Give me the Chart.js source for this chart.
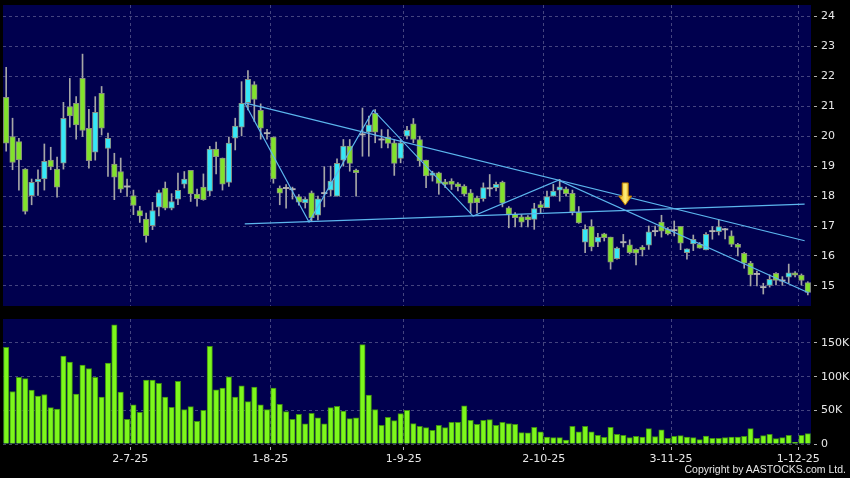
<!DOCTYPE html>
<html>
<head>
<meta charset="utf-8">
<script src="https://cdn.jsdelivr.net/npm/chart.js@4.4.1/dist/chart.umd.min.js"></script>
<style>
html, body { margin: 0; padding: 0; background: #000; }
#wrap { position: relative; width: 850px; height: 478px; background: #000; overflow: hidden; }
#priceChart { position: absolute; left: 0; top: 0; }
#volChart { position: absolute; left: 0; top: 312px; }
#copy { position: absolute; right: 4px; top: 463px; font: 10.5px "Liberation Sans", Arial, sans-serif; line-height: 12px; color: #e6e6e6; }
</style>
</head>
<body>
<div id="wrap">
  <canvas id="priceChart" width="850" height="312"></canvas>
  <canvas id="volChart" width="850" height="166"></canvas>
  <div id="copy">Copyright by AASTOCKS.com Ltd.</div>
</div>
<script>
// daily OHLC, one entry per trading day
const opens = [21.30,19.99,19.82,18.90,18.01,18.47,18.57,19.20,18.90,19.10,20.99,21.10,21.93,20.26,19.47,21.43,19.59,19.07,18.82,18.32,
  18.02,17.52,17.23,17.01,17.63,18.27,17.60,17.90,18.40,18.86,18.07,18.30,18.16,19.57,19.27,18.46,19.93,20.30,21.12,21.72,
  20.86,20.10,19.97,18.27,18.27,18.23,17.98,17.77,18.11,17.36,18.10,18.20,18.00,19.20,19.67,18.87,20.06,20.13,20.76,19.89,
  19.97,19.78,19.26,20.00,20.41,19.89,19.20,18.69,18.78,18.48,18.50,18.41,18.33,18.11,17.94,17.91,18.26,18.28,18.47,17.61,
  17.39,17.31,17.31,17.22,17.72,17.61,18.00,18.20,18.24,18.09,17.46,16.46,16.99,16.46,16.74,16.63,15.91,16.46,16.37,16.22,
  16.30,16.36,16.83,17.13,16.89,16.86,16.99,16.11,16.40,16.39,16.20,16.83,16.81,16.89,16.67,16.39,16.09,15.76,15.40,14.96,
  15.02,15.42,15.18,15.29,15.44,15.36,15.11];
const highs = [22.30,20.60,19.93,18.92,18.57,18.88,19.74,19.63,19.30,21.13,21.93,21.32,22.74,20.90,21.32,21.66,20.10,19.43,19.27,18.57,
  18.20,17.66,17.43,17.79,18.20,18.47,18.08,18.77,18.82,18.86,18.23,18.74,19.66,19.80,19.27,19.97,20.60,21.82,22.19,21.82,
  21.08,20.23,19.97,18.34,18.38,18.30,18.05,17.95,18.17,18.00,18.98,19.00,19.24,19.89,19.89,18.90,20.94,20.67,20.89,20.22,
  20.22,19.89,19.89,20.33,20.59,20.00,19.20,18.83,18.80,18.56,18.58,18.45,18.38,18.22,18.00,18.44,18.72,18.47,18.50,17.65,
  17.45,17.38,17.35,17.76,17.83,18.17,18.39,18.56,18.30,18.20,17.65,17.04,17.21,16.76,16.76,16.63,16.30,16.72,16.54,16.24,
  16.35,17.00,17.00,17.36,16.95,17.17,16.99,16.24,16.70,16.45,16.78,16.98,17.20,16.92,16.84,16.42,16.12,15.82,15.50,15.09,
  15.37,15.45,15.31,15.73,15.48,15.40,15.14];
const lows = [19.50,18.88,18.20,17.40,17.71,18.02,18.20,18.88,17.96,18.90,20.30,19.90,19.99,18.93,19.20,20.04,18.66,17.88,18.12,17.99,
  17.38,17.12,16.46,16.88,17.34,17.54,17.54,17.71,18.27,17.82,17.66,17.86,18.01,18.74,18.20,18.32,19.54,20.01,20.88,20.49,
  19.90,19.90,18.43,17.71,17.60,17.90,17.70,17.60,17.17,17.20,17.64,18.00,18.00,19.00,18.83,18.00,19.33,19.33,19.78,19.61,
  19.61,18.69,19.11,19.91,19.78,19.00,18.28,18.50,18.06,18.28,18.22,18.17,18.00,17.44,17.44,17.83,18.00,18.17,17.64,16.94,
  16.97,16.97,16.97,16.89,17.44,17.61,18.00,17.83,18.00,17.37,17.09,16.11,16.17,16.31,16.50,15.56,15.89,16.30,16.07,15.70,
  16.00,16.22,16.67,16.63,16.70,16.67,16.21,15.89,16.18,16.26,16.20,16.56,16.70,16.57,16.31,16.00,15.59,15.00,15.00,14.73,
  14.96,15.03,15.02,15.09,15.30,15.03,14.70];
const closes = [19.77,19.12,19.21,17.49,18.46,18.57,19.16,18.97,18.30,20.60,20.68,20.38,20.19,19.18,20.80,20.27,19.93,18.63,18.23,18.32,
  17.69,17.34,16.68,17.52,18.12,17.60,17.82,18.19,18.57,18.07,17.91,17.88,19.57,19.32,18.40,19.77,20.34,21.10,21.90,21.23,
  20.27,20.10,18.57,18.10,18.27,18.23,17.80,17.90,17.28,17.91,18.10,18.50,19.09,19.67,19.09,18.78,20.06,20.38,20.13,19.89,
  19.76,19.09,19.78,20.20,19.89,19.17,18.67,18.78,18.42,18.39,18.39,18.31,18.06,17.76,17.78,18.28,18.26,18.39,17.76,17.39,
  17.28,17.13,17.20,17.58,17.61,17.98,18.17,18.31,18.08,17.48,17.10,16.90,16.30,16.63,16.61,15.79,16.26,16.46,16.11,16.09,
  16.20,16.81,16.83,16.83,16.74,16.86,16.43,16.24,16.56,16.26,16.72,16.83,16.98,16.89,16.39,16.29,15.76,15.37,15.40,14.96,
  15.22,15.18,15.18,15.44,15.36,15.18,14.78];
// volume in thousands of shares
const volumes = [143.5,78,99,97,80,71,73.5,54,52,130.6,121.7,74,117,112,99,69.5,120,177,77,36.8,
  58,47,95,95,90,69.5,54.6,93,51,55.6,33.8,50,145,80.5,83,99.8,69.5,86.4,63,84.4,
  58,51,83,59,48,36.8,44,29.8,45.7,38.7,29.8,54,56,49,37.7,39,147.5,72.5,51,27.8,
  39.7,34.8,45,50,30.3,26.3,24.3,20.4,27.8,24.3,32.3,32.3,56.6,35.3,29.3,35.3,36.3,27.8,32.3,30.3,
  29.3,16.9,16.4,24.8,17.9,10.4,9.4,9.4,6,26.3,17.9,26.3,17.9,12.9,9.9,24.8,14.4,12.9,9.4,11.4,
  10.4,22.8,10.9,20.9,8.4,11.4,12.4,10.4,9.4,6.5,11.9,8.4,8.4,9.4,10.4,10.4,11.4,22.8,8.4,12.4,
  14.4,7.9,9.4,12.9,2.5,12.9,15.4];

// month gridlines sit on the boundary before the labelled day
const gridIdx = [19.5, 41.5, 62.5, 84.5, 104.5, 124.5];
const dateLabels = ['2-7-25', '1-8-25', '1-9-25', '2-10-25', '3-11-25', '1-12-25'];
const priceTicks = [15, 16, 17, 18, 19, 20, 21, 22, 23, 24];
const volTicks = [0, 50, 100, 150];

// drawn trend lines, [day index, price]
const baseLine = [[37.5, 17.07], [125.5, 17.73]];
const upperLine = [[37.5, 21.11], [125.5, 16.51]];
const zigzag = [[37.5, 21.11], [47.6, 17.13], [57.7, 20.87], [73.4, 17.33], [86.8, 18.53], [126.1, 14.77]];
const arrowAt = [97.3, 17.7, 18.44]; // day index, tip price, tail price

const UP = '#36e8f8', DOWN = '#82e22c', FLAT = '#b4b4b4';
const GRID = 'rgba(135,135,175,0.5)';
const LABEL = '#e8e8e8';

Chart.defaults.font.family = '"DejaVu Sans", sans-serif';
Chart.defaults.font.size = 11;

const days = closes.map((_, i) => i);
const isFlat = i => Math.abs(opens[i] - closes[i]) < 0.005;

const bgPlugin = {
  id: 'bg',
  beforeDraw(chart) {
    const { ctx, chartArea: a } = chart;
    ctx.save();
    ctx.fillStyle = '#000';
    ctx.fillRect(0, 0, chart.width, chart.height);
    ctx.fillStyle = '#00004e';
    ctx.fillRect(a.left, a.top, a.right - a.left, a.bottom - a.top);
    ctx.restore();
  }
};

const arrowPlugin = {
  id: 'arrow',
  afterDatasetsDraw(chart) {
    const { ctx, scales: { x, y } } = chart;
    const px = x.getPixelForValue(arrowAt[0]);
    const tip = y.getPixelForValue(arrowAt[1]);
    const tail = y.getPixelForValue(arrowAt[2]);
    const hw = 6.5, sw = 3, head = 9;
    ctx.save();
    const g = ctx.createLinearGradient(px - hw, 0, px + hw, 0);
    g.addColorStop(0, '#e09a00');
    g.addColorStop(0.5, '#fff07a');
    g.addColorStop(1, '#e09a00');
    ctx.fillStyle = g;
    ctx.beginPath();
    ctx.moveTo(px - sw, tail);
    ctx.lineTo(px + sw, tail);
    ctx.lineTo(px + sw, tip - head);
    ctx.lineTo(px + hw, tip - head);
    ctx.lineTo(px, tip);
    ctx.lineTo(px - hw, tip - head);
    ctx.lineTo(px - sw, tip - head);
    ctx.closePath();
    ctx.fill();
    ctx.strokeStyle = '#b87800';
    ctx.lineWidth = 1;
    ctx.stroke();
    ctx.restore();
  }
};

function dayAxis(showLabels) {
  return {
    type: 'linear',
    min: -0.5,
    max: 126.5,
    offset: false,
    bounds: 'data',
    afterBuildTicks: s => { s.ticks = gridIdx.map(v => ({ value: v })); },
    afterFit: s => {
      s.height = showLabels ? 34 : 0;
      s.paddingLeft = 0; s.paddingRight = 0;
    },
    ticks: {
      display: showLabels,
      autoSkip: false,
      maxRotation: 0,
      padding: 3,
      color: LABEL,
      callback: v => dateLabels[gridIdx.indexOf(v)]
    },
    grid: {
      offset: false,
      color: GRID,
      drawTicks: showLabels,
      tickLength: 6,
      tickColor: '#b0b0b0',
      tickBorderDash: [0, 3, 3]
    },
    border: { display: false, dash: [3, 3] }
  };
}

function valueAxis(min, max, ticks, fmt) {
  return {
    position: 'right',
    min: min,
    max: max,
    bounds: 'data',
    afterBuildTicks: s => { s.ticks = ticks.map(v => ({ value: v })); },
    afterFit: s => { s.width = 39; s.paddingTop = 0; s.paddingBottom = 0; },
    ticks: { color: LABEL, padding: 4, callback: fmt },
    grid: {
      color: GRID,
      drawTicks: true,
      tickLength: 6,
      tickColor: '#b0b0b0',
      tickBorderDash: [0, 3, 3]
    },
    border: { display: false, dash: [3, 3] }
  };
}

function line(points) {
  return {
    type: 'line',
    data: points.map(p => ({ x: p[0], y: p[1] })),
    borderColor: '#5cb6ee',
    borderWidth: 1.2,
    pointRadius: 0,
    tension: 0,
    fill: false,
    order: 1
  };
}

new Chart(document.getElementById('priceChart'), {
  type: 'bar',
  data: {
    datasets: [
      {
        data: days.map(i => ({ x: i, y: [lows[i], highs[i]] })),
        backgroundColor: '#a6a6a6',
        barThickness: 1,
        grouped: false,
        order: 3
      },
      {
        data: days.map(i => ({ x: i, y: isFlat(i) ? [opens[i] - 0.02, opens[i] + 0.02] : [opens[i], closes[i]] })),
        backgroundColor: days.map(i => isFlat(i) ? FLAT : (closes[i] > opens[i] ? UP : DOWN)),
        borderColor: days.map(i => isFlat(i) ? FLAT : '#8a9082'),
        borderWidth: days.map(i => isFlat(i) ? 0 : 1),
        borderSkipped: false,
        barThickness: 5.6,
        grouped: false,
        order: 2
      },
      line(baseLine),
      line(upperLine),
      line(zigzag)
    ]
  },
  options: {
    responsive: false,
    animation: false,
    layout: { padding: { left: 3, top: 5, bottom: 6, right: 0 } },
    plugins: { legend: { display: false }, tooltip: { enabled: false } },
    scales: {
      x: dayAxis(false),
      y: valueAxis(14.33, 24.38, priceTicks, v => String(v))
    }
  },
  plugins: [bgPlugin, arrowPlugin]
});

new Chart(document.getElementById('volChart'), {
  type: 'bar',
  data: {
    datasets: [{
      data: days.map(i => ({ x: i, y: volumes[i] })),
      backgroundColor: '#7df71c',
      borderColor: '#3f8f12',
      borderWidth: 1,
      barThickness: 5.4
    }]
  },
  options: {
    responsive: false,
    animation: false,
    layout: { padding: { left: 3, top: 7, bottom: 0, right: 0 } },
    plugins: { legend: { display: false }, tooltip: { enabled: false } },
    scales: {
      x: dayAxis(true),
      y: valueAxis(0, 185.6, volTicks, v => v === 0 ? '0' : v + 'K')
    }
  },
  plugins: [bgPlugin]
});
</script>
</body>
</html>
